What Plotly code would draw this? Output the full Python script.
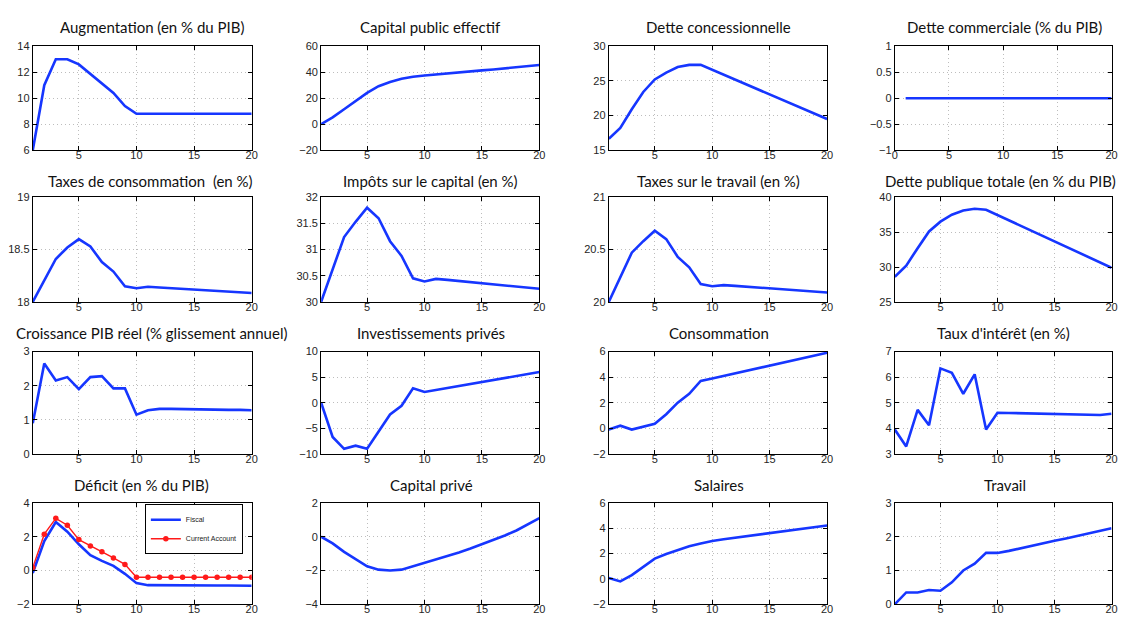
import plotly.graph_objects as go

years = list(range(1, 21))

augmentation = [6.0, 11.0, 13.0, 13.0, 12.6, 11.85, 11.1, 10.4, 9.4, 8.8, 8.8, 8.8, 8.8, 8.8, 8.8, 8.8, 8.8, 8.8, 8.8, 8.8]
capital_public = [0.0, 5.2, 11.5, 17.8, 24.1, 29.2, 32.5, 35.0, 36.5, 37.4, 38.3, 39.1, 39.9, 40.6, 41.4, 42.1, 42.9, 43.7, 44.6, 45.5]
dette_conc = [16.65, 18.2, 20.9, 23.4, 25.2, 26.2, 27.0, 27.3, 27.3, 26.6, 25.9, 25.2, 24.5, 23.8, 23.1, 22.4, 21.7, 21.0, 20.2, 19.5]
dette_comm = [0.0] * 20
taxes_conso = [18.0, 18.2, 18.41, 18.52, 18.6, 18.53, 18.38, 18.29, 18.15, 18.13, 18.145, 18.138, 18.131, 18.124, 18.117, 18.111, 18.104, 18.097, 18.091, 18.085]
impots_capital = [30.0, 30.62, 31.24, 31.53, 31.8, 31.6, 31.16, 30.88, 30.45, 30.39, 30.44, 30.42, 30.4, 30.38, 30.36, 30.34, 30.32, 30.3, 30.28, 30.25]
taxes_travail = [20.0, 20.24, 20.47, 20.58, 20.68, 20.6, 20.43, 20.33, 20.17, 20.15, 20.16, 20.153, 20.146, 20.139, 20.132, 20.125, 20.118, 20.111, 20.1, 20.09]
dette_pub = [28.6, 30.2, 32.7, 35.1, 36.5, 37.5, 38.1, 38.35, 38.2, 37.45, 36.7, 35.95, 35.2, 34.45, 33.7, 32.95, 32.2, 31.45, 30.7, 29.9]
croissance = [0.9, 2.65, 2.15, 2.25, 1.9, 2.25, 2.28, 1.92, 1.92, 1.15, 1.28, 1.32, 1.32, 1.31, 1.31, 1.3, 1.3, 1.29, 1.29, 1.28]
invest = [0.0, -6.7, -9.0, -8.4, -9.0, -5.6, -2.3, -0.6, 2.8, 2.1, 2.5, 2.9, 3.3, 3.7, 4.1, 4.5, 4.9, 5.2, 5.6, 6.0]
conso = [-0.1, 0.2, -0.1, 0.15, 0.35, 1.1, 2.0, 2.7, 3.7, 3.9, 4.1, 4.3, 4.5, 4.7, 4.9, 5.1, 5.3, 5.5, 5.7, 5.9]
taux = [3.95, 3.29, 4.72, 4.12, 6.34, 6.17, 5.35, 6.11, 3.95, 4.61, 4.6, 4.59, 4.58, 4.57, 4.56, 4.55, 4.54, 4.53, 4.52, 4.57]
deficit_fiscal = [-0.15, 1.74, 2.87, 2.3, 1.55, 0.9, 0.57, 0.27, -0.2, -0.75, -0.87, -0.88, -0.88, -0.88, -0.88, -0.89, -0.89, -0.89, -0.89, -0.9]
deficit_ca = [0.17, 2.15, 3.09, 2.68, 1.83, 1.45, 1.11, 0.74, 0.36, -0.4, -0.4, -0.4, -0.4, -0.4, -0.4, -0.4, -0.4, -0.4, -0.4, -0.4]
capital_prive = [0.0, -0.4, -0.9, -1.35, -1.75, -1.95, -2.0, -1.95, -1.75, -1.55, -1.35, -1.15, -0.93, -0.7, -0.45, -0.2, 0.07, 0.37, 0.72, 1.1]
salaires = [0.08, -0.2, 0.3, 0.93, 1.6, 1.97, 2.27, 2.58, 2.8, 3.0, 3.13, 3.25, 3.37, 3.49, 3.61, 3.73, 3.85, 3.97, 4.1, 4.22]
travail = [0.0, 0.35, 0.35, 0.42, 0.4, 0.65, 1.0, 1.2, 1.52, 1.52, 1.58, 1.66, 1.73, 1.8, 1.88, 1.95, 2.02, 2.1, 2.17, 2.25]

titles = [
    "Augmentation (en % du PIB)", "Capital public effectif", "Dette concessionnelle", "Dette commerciale (% du PIB)",
    "Taxes de consommation  (en %)", "Impôts sur le capital (en %)", "Taxes sur le travail (en %)", "Dette publique totale (en % du PIB)",
    "Croissance PIB réel (% glissement annuel)", "Investissements privés", "Consommation", "Taux d'intérêt (en %)",
    "Déficit (en % du PIB)", "Capital privé", "Salaires", "Travail",
]
series = [augmentation, capital_public, dette_conc, dette_comm,
          taxes_conso, impots_capital, taxes_travail, dette_pub,
          croissance, invest, conso, taux,
          deficit_fiscal, capital_prive, salaires, travail]
y_ranges = [(6, 14), (-20, 60), (15, 30), (-1, 1),
            (18, 19), (30, 32), (20, 21), (25, 40),
            (0, 3), (-10, 10), (-2, 6), (3, 7),
            (-2, 4), (-4, 2), (-2, 6), (0, 3)]
y_ticks = [[6, 8, 10, 12, 14], [-20, 0, 20, 40, 60], [15, 20, 25, 30], [-1, -0.5, 0, 0.5, 1],
           [18, 18.5, 19], [30, 30.5, 31, 31.5, 32], [20, 20.5, 21], [25, 30, 35, 40],
           [0, 1, 2, 3], [-10, -5, 0, 5, 10], [-2, 0, 2, 4, 6], [3, 4, 5, 6, 7],
           [-2, 0, 2, 4], [-4, -2, 0, 2], [-2, 0, 2, 4, 6], [0, 1, 2, 3]]

W, H = 1125, 623
col_px = [(30, 250.7), (320.7, 540.7), (610.7, 830.7), (899, 1117.5)]
row_px = [(41, 147), (195, 301.7), (352.3, 456.7), (506.7, 610)]
title_y = [21.5, 178.5, 333.5, 488.5]
title_x = [[150, 431, 721, 1010], [149, 431, 721, 1006], [150, 431, 722, 1009], [140, 432, 722, 1010]]

BLUE = "#1636ff"
fig = go.Figure()
layout = dict(
    width=W, height=H, margin=dict(l=0, r=0, t=0, b=0),
    paper_bgcolor="white", plot_bgcolor="white",
    showlegend=True, annotations=[], hovermode=False,
    legend=dict(x=143 / W, y=1 - 508 / H, xanchor="left", yanchor="top",
                bordercolor="black", borderwidth=1, bgcolor="white",
                font=dict(family="Liberation Sans", size=7, color="#222"),
                tracegroupgap=0, itemwidth=30),
)
tick_font = dict(family="Liberation Sans", size=11, color="#262626")

for i in range(16):
    r, c = divmod(i, 4)
    n = i + 1
    xa = "x" if n == 1 else f"x{n}"
    ya = "y" if n == 1 else f"y{n}"
    x0, x1 = col_px[c]
    y0, y1 = row_px[r]
    if i == 12:
        fig.add_trace(go.Scatter(x=years, y=deficit_fiscal, mode="lines", name="Fiscal",
                                 line=dict(color=BLUE, width=2.6), xaxis=xa, yaxis=ya))
        fig.add_trace(go.Scatter(x=years, y=deficit_ca, mode="lines+markers", name="Current Account",
                                 line=dict(color="#ff1a1a", width=1.4),
                                 marker=dict(color="#ff1a1a", size=5.5), xaxis=xa, yaxis=ya))
    else:
        fig.add_trace(go.Scatter(x=years, y=series[i], mode="lines", showlegend=False,
                                 line=dict(color=BLUE, width=2.6), xaxis=xa, yaxis=ya))
    if i == 3:
        xr, xt = [0, 20], [0, 5, 10, 15, 20]
    else:
        xr, xt = [1, 20], [5, 10, 15, 20]
    common = dict(showline=True, linecolor="black", linewidth=1, mirror="ticks",
                  ticks="inside", ticklen=4, tickcolor="black", tickwidth=1,
                  showgrid=True, gridcolor="#bdbdbd", griddash="1px,3px", gridwidth=1,
                  zeroline=False, tickfont=tick_font, fixedrange=True)
    layout["xaxis" if n == 1 else f"xaxis{n}"] = dict(
        domain=[x0 / W, x1 / W], range=xr, tickvals=xt, anchor=ya,
        ticklabelstandoff=-5, **common)
    layout["yaxis" if n == 1 else f"yaxis{n}"] = dict(
        domain=[1 - y1 / H, 1 - y0 / H], range=list(y_ranges[i]), tickvals=y_ticks[i], anchor=xa, **common)
    layout["annotations"].append(dict(
        text=titles[i], x=title_x[r][c] / W, y=1 - title_y[r] / H, xref="paper", yref="paper",
        xanchor="center", yanchor="middle", showarrow=False,
        font=dict(family="Lato", size=15, color="#111")))

fig.update_layout(**layout)
fig.write_html("out.html", config={"displayModeBar": False},
               post_script="document.body.style.margin='0';document.body.style.overflow='hidden';")
